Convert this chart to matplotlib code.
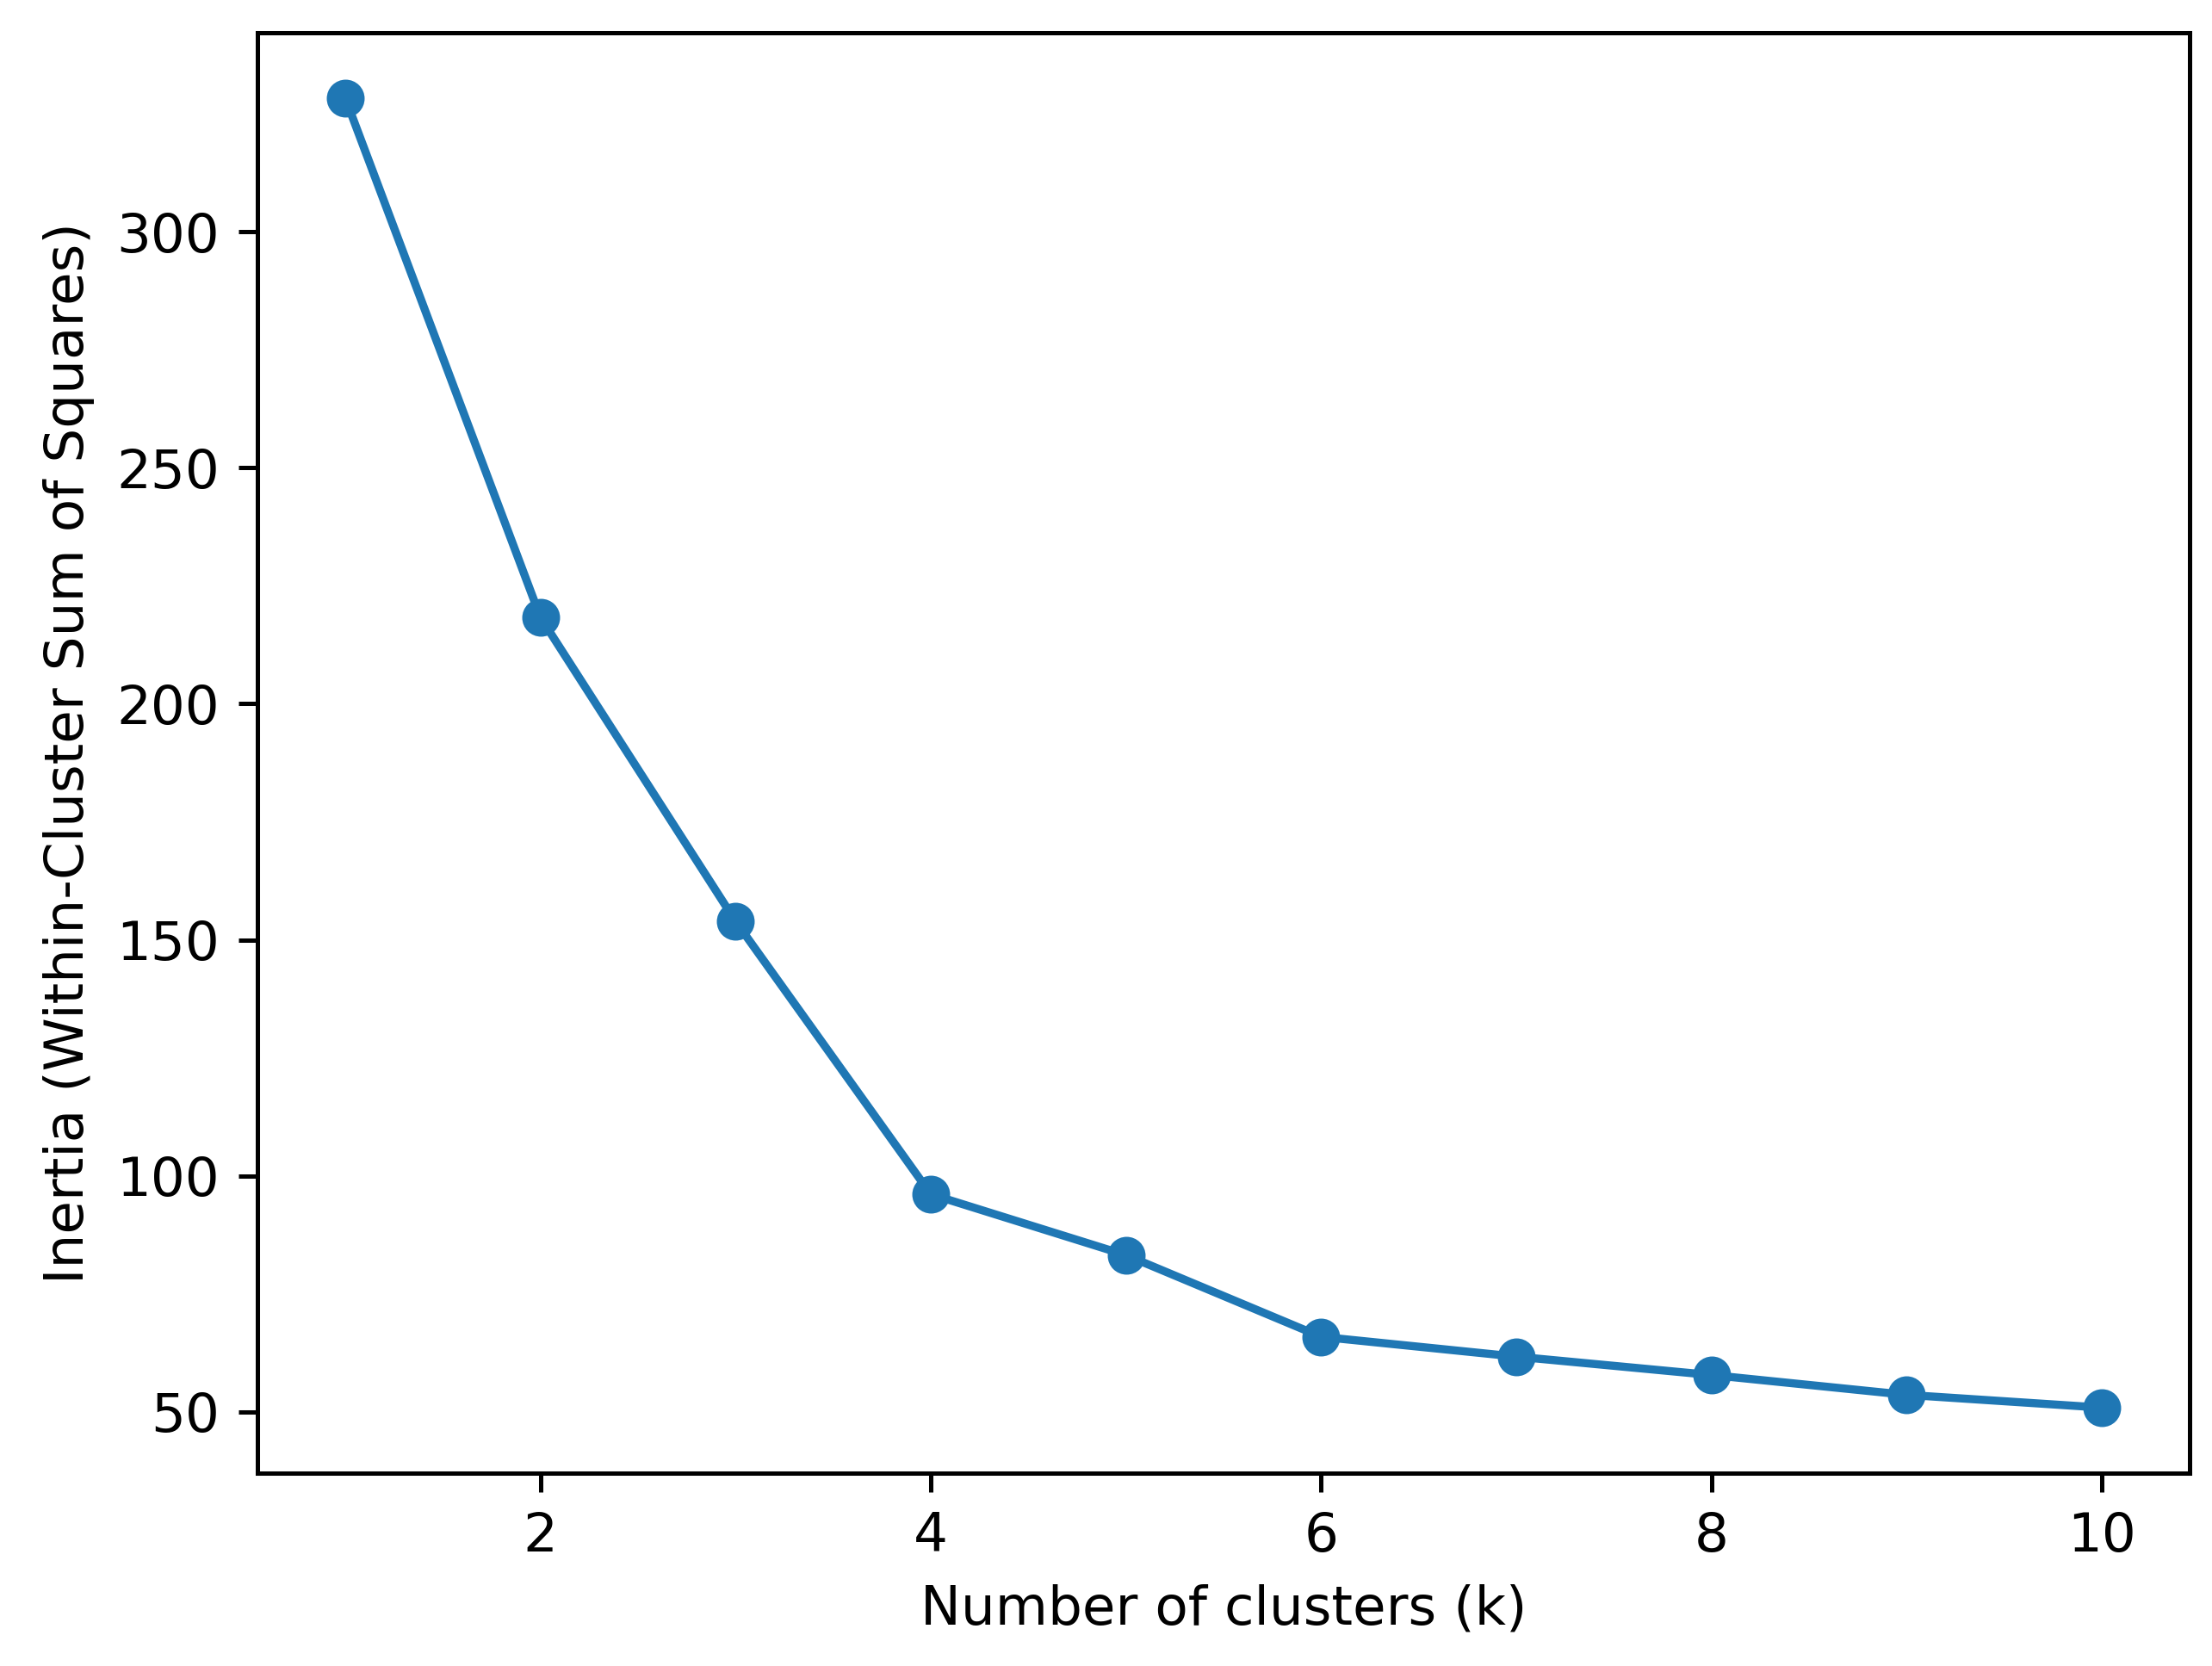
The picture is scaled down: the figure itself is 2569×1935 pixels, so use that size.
import matplotlib
matplotlib.use("Agg")
import matplotlib.pyplot as plt

# Elbow curve values
k_values = [1, 2, 3, 4, 5, 6, 7, 8, 9, 10]
inertia = [328.3, 218.3, 153.9, 96.1, 83.2, 65.9, 61.7, 57.8, 53.6, 50.9]

dpi = 452
fig = plt.figure(figsize=(2569 / dpi, 1935 / dpi), dpi=dpi)
ax = fig.add_axes([0.1164, 0.1158, 0.8735, 0.8646])

ax.plot(k_values, inertia, marker='o')
ax.set_xlabel('Number of clusters (k)')
ax.set_ylabel('Inertia (Within-Cluster Sum of Squares)')

fig.savefig('out.png', dpi=dpi)
